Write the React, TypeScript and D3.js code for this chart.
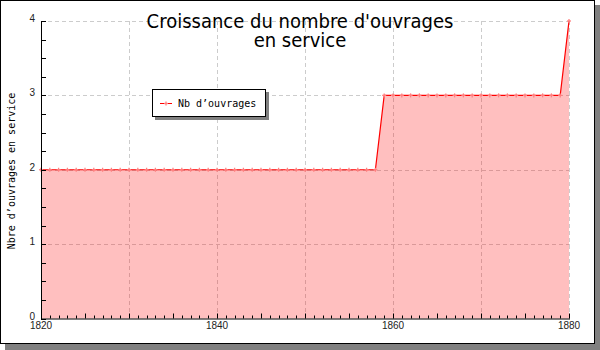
import React from "react";
import * as d3 from "d3";

const years = [
  1820, 1821, 1822, 1823, 1824, 1825, 1826, 1827, 1828, 1829,
  1830, 1831, 1832, 1833, 1834, 1835, 1836, 1837, 1838, 1839,
  1840, 1841, 1842, 1843, 1844, 1845, 1846, 1847, 1848, 1849,
  1850, 1851, 1852, 1853, 1854, 1855, 1856, 1857, 1858, 1859,
  1860, 1861, 1862, 1863, 1864, 1865, 1866, 1867, 1868, 1869,
  1870, 1871, 1872, 1873, 1874, 1875, 1876, 1877, 1878, 1879,
  1880,
];
const ouvrages = [
  2, 2, 2, 2, 2, 2, 2, 2, 2, 2,
  2, 2, 2, 2, 2, 2, 2, 2, 2, 2,
  2, 2, 2, 2, 2, 2, 2, 2, 2, 2,
  2, 2, 2, 2, 2, 2, 2, 2, 2, 3,
  3, 3, 3, 3, 3, 3, 3, 3, 3, 3,
  3, 3, 3, 3, 3, 3, 3, 3, 3, 3,
  4,
];
const xTickLabels = [1820, 1840, 1860, 1880];
const xGrid = [1830, 1840, 1850, 1860, 1870, 1880];
const yTickLabels = [0, 1, 2, 3, 4];
const titleLines = ["Croissance du nombre d'ouvrages", "en service"];
const yTitle = "Nbre d\u2019ouvrages en service";
const seriesName = "Nb d\u2019ouvrages";

export default function App() {
  const W = 600, H = 350;
  const left = 41, right = 569, top = 21, bottom = 318.5;
  const x = d3.scaleLinear().domain([1820, 1880]).range([left, right]);
  const y = d3.scaleLinear().domain([0, 4]).range([bottom, top]);
  const data = years.map((yr, i) => ({ yr, v: ouvrages[i] }));
  const line = d3.line<any>().x(d => x(d.yr)).y(d => y(d.v));
  const area = d3.area<any>().x(d => x(d.yr)).y0(y(0)).y1(d => y(d.v));
  const minorX = d3.range(1820, 1881, 1);
  const minorY = d3.range(0, 4.001, 0.25);
  const tickFont = "'Liberation Sans', sans-serif";
  const mono = "'DejaVu Sans Mono', monospace";
  const titleFont = "'DejaVu Sans Condensed', 'DejaVu Sans', sans-serif";

  return (
    <svg width={W} height={H} style={{ position: "absolute", left: 0, top: 0 }}>
      <rect x={5} y={5} width={595} height={345} fill="#808080" />
      <rect x={0.5} y={0.5} width={594} height={343} fill="#fff" stroke="#000" />
      {/* grid */}
      {xGrid.map(g => (
        <line key={"gx" + g} x1={x(g) + 0.5} x2={x(g) + 0.5} y1={top} y2={bottom}
          stroke="#cccccc" strokeDasharray="4,3" />
      ))}
      {yTickLabels.filter(v => v > 0).map(v => (
        <line key={"gy" + v} x1={left} x2={right + 3} y1={Math.round(y(v)) + 0.5} y2={Math.round(y(v)) + 0.5}
          stroke="#cccccc" strokeDasharray="4,3" />
      ))}
      {/* area */}
      <path d={area(data) || ""} fill="rgba(255,0,0,0.25)" />
      <path d={line(data) || ""} fill="none" stroke="#ff0000" strokeWidth={1.2} />
      {data.map(d => (
        <g key={"m" + d.yr} stroke="#ff8080" strokeWidth={1.3}>
          <line x1={x(d.yr) - 2} x2={x(d.yr) + 2} y1={y(d.v)} y2={y(d.v)} />
          <line x1={x(d.yr)} x2={x(d.yr)} y1={y(d.v) - 2} y2={y(d.v) + 2} />
        </g>
      ))}
      {/* axes */}
      <line x1={left + 0.5} x2={left + 0.5} y1={top} y2={bottom + 0.5} stroke="#000" />
      <line x1={left} x2={right + 1} y1={bottom + 0.5} y2={bottom + 0.5} stroke="#000" />
      {minorX.map(t => (
        <line key={"tx" + t} x1={Math.round(x(t)) + 0.5} x2={Math.round(x(t)) + 0.5}
          y1={bottom} y2={bottom - (t % 5 === 0 ? 5 : 3)} stroke="#000" />
      ))}
      {minorY.map(t => (
        <line key={"ty" + t} x1={left} x2={left + 5} y1={Math.round(y(t)) + 0.5} y2={Math.round(y(t)) + 0.5} stroke="#000" />
      ))}
      {xTickLabels.map(t => (
        <text key={"lx" + t} x={x(t)} y={329} textAnchor="middle" fontFamily={tickFont} fontSize={10} fill="#222">{t}</text>
      ))}
      {yTickLabels.map(t => (
        <text key={"ly" + t} x={35} y={y(t) + 1} textAnchor="end" fontFamily={tickFont} fontSize={10} fill="#222">{t}</text>
      ))}
      {/* titles */}
      <text x={300} y={28} textAnchor="middle" fontFamily={titleFont} fontStretch="condensed" fontSize={20} fill="#000">{titleLines[0]}</text>
      <text x={300} y={47} textAnchor="middle" fontFamily={titleFont} fontStretch="condensed" fontSize={20} fill="#000">{titleLines[1]}</text>
      <text transform="translate(15,171) rotate(-90)" textAnchor="middle" fontFamily={mono} fontSize={10} fill="#000">{yTitle}</text>
      {/* legend */}
      <rect x={155} y={92} width={114} height={28} fill="#808080" />
      <rect x={152.5} y={89.5} width={113} height={27} fill="#fff" stroke="#000" />
      <line x1={160} x2={172} y1={103.5} y2={103.5} stroke="#ff0000" />
      <g stroke="#ff8080" strokeWidth={1.3}>
        <line x1={164} x2={168} y1={103.5} y2={103.5} />
        <line x1={166} x2={166} y1={101.5} y2={105.5} />
      </g>
      <text x={178} y={107} fontFamily={mono} fontSize={10} fill="#000">{seriesName}</text>
    </svg>
  );
}
